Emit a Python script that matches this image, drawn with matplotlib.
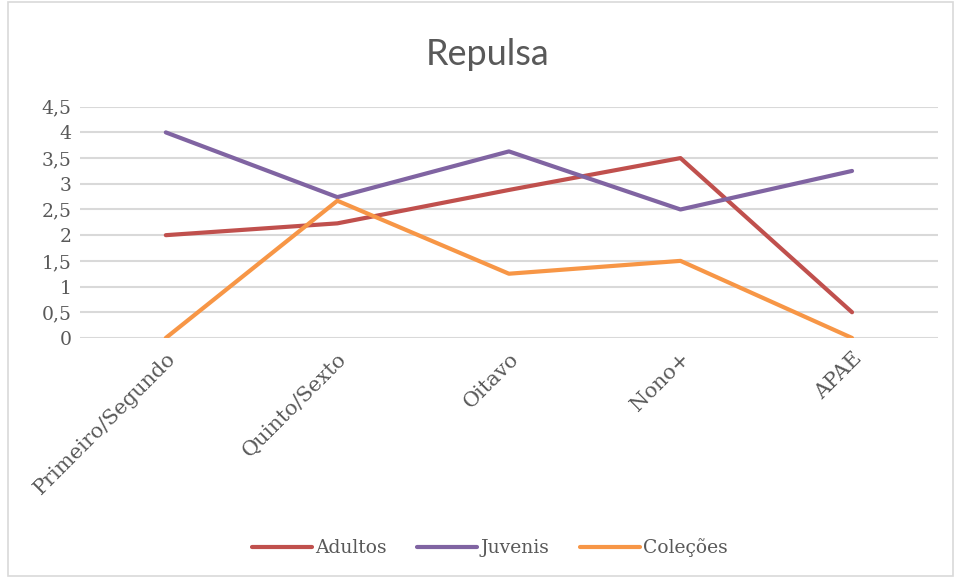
import numpy as np
import matplotlib.pyplot as plt
from matplotlib.patches import Rectangle

categorias = ['Primeiro/Segundo', 'Quinto/Sexto', 'Oitavo', 'Nono+', 'APAE']
adultos = [2.0, 2.23, 2.88, 3.5, 0.5]
juvenis = [4.0, 2.74, 3.63, 2.5, 3.25]
colecoes = [0.0, 2.67, 1.25, 1.5, 0.0]
y_ticks = [0, 0.5, 1, 1.5, 2, 2.5, 3, 3.5, 4, 4.5]
y_labels = ['0', '0,5', '1', '1,5', '2', '2,5', '3', '3,5', '4', '4,5']

serif = ['DejaVu Serif']
cor_texto = '#595959'

fig = plt.figure(figsize=(9.55, 5.78), dpi=100)
ax = fig.add_axes([0.0838, 0.4153, 0.8982, 0.4001])

x = np.arange(len(categorias))
ax.plot(x, adultos, color='#C0504D', lw=3, solid_capstyle='round', label='Adultos')
ax.plot(x, juvenis, color='#8064A2', lw=3, solid_capstyle='round', label='Juvenis')
ax.plot(x, colecoes, color='#F79646', lw=3, solid_capstyle='round', label='Coleções')

ax.set_xlim(-0.5, len(categorias) - 0.5)
ax.set_ylim(0, 4.5)
ax.set_yticks(y_ticks)
ax.set_yticklabels(y_labels, family=serif, fontsize=13.5, color=cor_texto)
ax.set_xticks(x)
ax.set_xticklabels(categorias, family=serif, fontsize=15, color=cor_texto,
                   rotation=45, ha='right', rotation_mode='anchor')
ax.tick_params(length=0, pad=6)
ax.tick_params(axis='x', pad=8)
ax.grid(axis='y', color='#D9D9D9', lw=1.5)
ax.set_axisbelow(True)
for s in ax.spines.values():
    s.set_visible(False)

fig.text(0.511, 0.905, 'Repulsa', ha='center', va='center', fontsize=26,
         family='Lato', color=cor_texto)

leg = fig.legend(loc='center', bbox_to_anchor=(0.513, 0.052), ncol=3, frameon=False,
                 handlelength=3.2, handletextpad=0.2, columnspacing=1.6,
                 prop={'family': serif, 'size': 13.5})
for t in leg.get_texts():
    t.set_color(cor_texto)

fig.patches.append(Rectangle((0.008, 0.003), 0.99, 0.994, transform=fig.transFigure,
                             fill=False, edgecolor='#D9D9D9', lw=1.2))

fig.savefig('out.png', dpi=100)
